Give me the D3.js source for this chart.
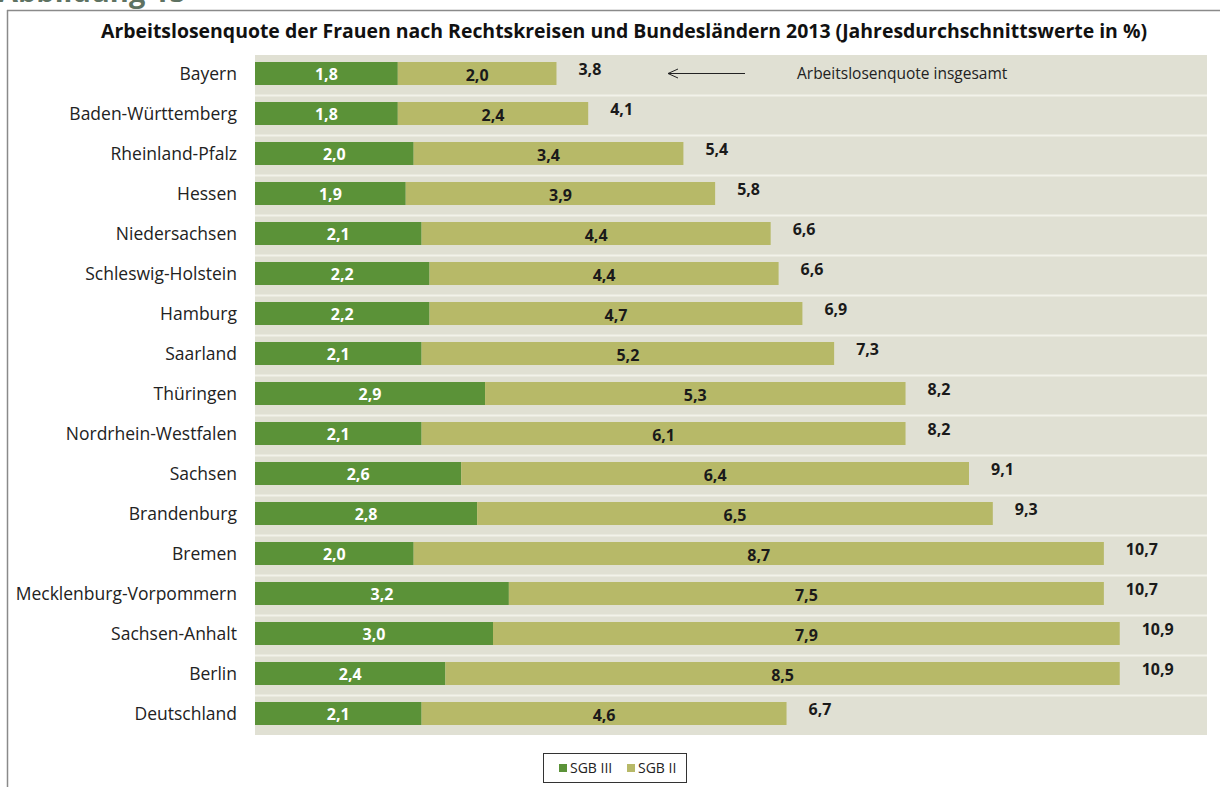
<!DOCTYPE html>
<html><head><meta charset="utf-8">
<script src="https://cdn.jsdelivr.net/npm/d3@7/dist/d3.min.js"></script>
<style>
body{margin:0;background:#fff;}
svg{display:block;font-family:"Open Sans",Lato,sans-serif;}
</style></head>
<body>
<svg id="chart" width="1220" height="787"></svg>
<script>
const categories = ["Bayern","Baden-Württemberg","Rheinland-Pfalz","Hessen","Niedersachsen","Schleswig-Holstein","Hamburg","Saarland","Thüringen","Nordrhein-Westfalen","Sachsen","Brandenburg","Bremen","Mecklenburg-Vorpommern","Sachsen-Anhalt","Berlin","Deutschland"];
const sgb3 = [1.8,1.8,2.0,1.9,2.1,2.2,2.2,2.1,2.9,2.1,2.6,2.8,2.0,3.2,3.0,2.4,2.1];
const sgb2 = [2.0,2.4,3.4,3.9,4.4,4.4,4.7,5.2,5.3,6.1,6.4,6.5,8.7,7.5,7.9,8.5,4.6];
const totals = [3.8,4.1,5.4,5.8,6.6,6.6,6.9,7.3,8.2,8.2,9.1,9.3,10.7,10.7,10.9,10.9,6.7];
const seriesNames = ["SGB III","SGB II"];
const colors = ["#5b9238","#b7b968"];
const title = "Arbeitslosenquote der Frauen nach Rechtskreisen und Bundesländern 2013 (Jahresdurchschnittswerte  in %)";

const fmt = v => v.toFixed(1).replace(".", ",");
const svg = d3.select("#chart");

// frame
svg.append("text").attr("x",-2).attr("y",2).attr("font-size",29).attr("font-weight","bold")
  .attr("fill","#5e7262").text("Abbildung 15");
svg.append("line").attr("x1",7).attr("x2",1220).attr("y1",10.5).attr("y2",10.5).attr("stroke","#8a8a8a").attr("stroke-width",1.5);
svg.append("line").attr("x1",7.5).attr("x2",7.5).attr("y1",10).attr("y2",787).attr("stroke","#8a8a8a").attr("stroke-width",1.5);

svg.append("text").attr("x",624).attr("y",38).attr("text-anchor","middle")
  .attr("font-size",19.2).attr("font-weight","bold").attr("fill","#111")
  .attr("textLength",1046).attr("lengthAdjust","spacingAndGlyphs").text(title);

const x = d3.scaleLinear().domain([0,12]).range([255,1207]);
const y = d3.scaleBand().domain(categories).range([55,735]);
const bh = 23;

// plot background
svg.append("rect").attr("x",x(0)).attr("y",y.range()[0]).attr("width",x(12)-x(0))
  .attr("height",y.range()[1]-y.range()[0]).attr("fill","#e0e0d3");
svg.append("g").selectAll("line").data(categories.slice(1)).join("line")
  .attr("x1",x(0)).attr("x2",x(12)).attr("y1",d=>y(d)+0.5).attr("y2",d=>y(d)+0.5)
  .attr("stroke","#f2f2ea").attr("stroke-width",2);

const rows = categories.map((c,i)=>({c, a:sgb3[i], b:sgb2[i], t:totals[i]}));
const cy = d => y(d.c) + y.bandwidth()/2 - 1.5;

const g = svg.append("g");
g.selectAll("rect.s3").data(rows).join("rect").attr("class","s3")
  .attr("x",x(0)).attr("y",d=>cy(d)-bh/2).attr("width",d=>x(d.a)-x(0)).attr("height",bh).attr("fill",colors[0]);
g.selectAll("rect.s2").data(rows).join("rect").attr("class","s2")
  .attr("x",d=>x(d.a)).attr("y",d=>cy(d)-bh/2).attr("width",d=>x(d.a+d.b)-x(d.a)).attr("height",bh).attr("fill",colors[1]);

g.selectAll("text.l3").data(rows).join("text").attr("class","l3")
  .attr("x",d=>(x(0)+x(d.a))/2).attr("y",d=>cy(d)+6).attr("text-anchor","middle")
  .attr("font-size",16).attr("font-weight","bold").attr("fill","#fff").text(d=>fmt(d.a));
g.selectAll("text.l2").data(rows).join("text").attr("class","l2")
  .attr("x",d=>(x(d.a)+x(d.a+d.b))/2).attr("y",d=>cy(d)+7).attr("text-anchor","middle")
  .attr("font-size",16).attr("font-weight","bold").attr("fill","#1a1a1a").text(d=>fmt(d.b));
g.selectAll("text.lt").data(rows).join("text").attr("class","lt")
  .attr("x",d=>x(d.a+d.b)+22).attr("y",d=>cy(d)+1).attr("text-anchor","start")
  .attr("font-size",16).attr("font-weight","bold").attr("fill","#1a1a1a").text(d=>fmt(d.t));

// category axis
const ax = svg.append("g").attr("transform",`translate(${x(0)-18},0)`)
  .call(d3.axisLeft(y).tickSize(0).tickPadding(0));
ax.select(".domain").remove();
ax.selectAll("text").attr("font-size",17.5).attr("fill","#222").attr("font-family","'Open Sans',Lato,sans-serif").attr("dy","0.3em");

// annotation
const ay = cy(rows[0]);
svg.append("line").attr("x1",668).attr("x2",745).attr("y1",ay).attr("y2",ay).attr("stroke","#222").attr("stroke-width",1);
svg.append("path").attr("d",`M${678},${ay-4.5} L${668},${ay} L${678},${ay+4.5}`).attr("fill","none").attr("stroke","#222").attr("stroke-width",1);
svg.append("text").attr("x",797).attr("y",ay+5).attr("font-size",15.5).attr("fill","#222").text("Arbeitslosenquote  insgesamt");

// legend
const lg = svg.append("g");
lg.append("rect").attr("x",543.5).attr("y",753.5).attr("width",143).attr("height",29).attr("fill","#fff").attr("stroke","#333").attr("stroke-width",1);
seriesNames.forEach((n,i)=>{
  const lx = [559,627][i];
  lg.append("rect").attr("x",lx).attr("y",764).attr("width",8).attr("height",8).attr("fill",colors[i]);
  lg.append("text").attr("x",lx+11).attr("y",773).attr("font-size",14).attr("fill","#222").text(n);
});
</script>
</body></html>
